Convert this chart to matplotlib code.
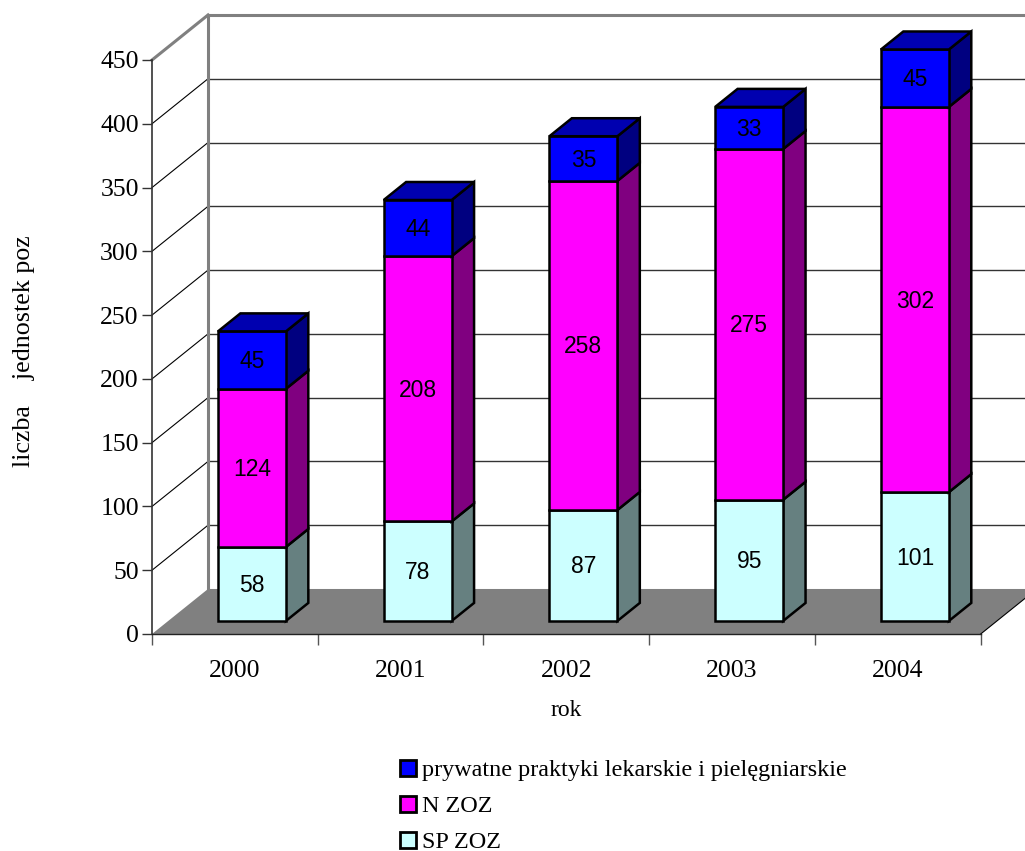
import matplotlib
matplotlib.use("Agg")
from matplotlib import pyplot as plt
from matplotlib.patches import Polygon, Rectangle
from matplotlib.transforms import offset_copy

years = ["2000", "2001", "2002", "2003", "2004"]
sp_zoz = [58, 78, 87, 95, 101]
n_zoz = [124, 208, 258, 275, 302]
prywatne = [45, 44, 35, 33, 45]
y_ticks = list(range(0, 451, 50))

W, H = 1025, 851
SERIF = "Liberation Serif"
SANS = "Liberation Sans"

# how far the full chart depth moves a point, in data units
DEPTH_X = 0.338
DEPTH_Y = 35.3
# bar position inside a category and inside the depth
BAR_LEFT = 0.30
BAR_W = 0.41
BAR_D0 = 0.29
BAR_D1 = 0.69


def pr(x, y, d):
    return (x + d * DEPTH_X, y + d * DEPTH_Y)


fig = plt.figure(figsize=(W / 100, H / 100), dpi=100)
ax = fig.add_axes([152 / W, 1 - 634 / H, (980.7 - 152) / W, (634 - 60) / H])
ax.set_xlim(0, 5)
ax.set_ylim(0, 450)

# back wall, side wall and floor
for t in y_ticks[1:-1]:
    ax.plot([pr(0, t, 1)[0], 5 + DEPTH_X], [t + DEPTH_Y, t + DEPTH_Y], color="#333333", lw=1, clip_on=False, zorder=1)
    ax.plot([0, DEPTH_X], [t, t + DEPTH_Y], color="black", lw=0.8, clip_on=False, zorder=1)
top = y_ticks[-1]
ax.plot([DEPTH_X, 5 + DEPTH_X], [top + DEPTH_Y, top + DEPTH_Y], color="#808080", lw=2.2, clip_on=False, zorder=1)
ax.plot([0, DEPTH_X], [top, top + DEPTH_Y], color="#808080", lw=2.2, clip_on=False, zorder=1)
ax.plot([DEPTH_X, DEPTH_X], [DEPTH_Y, top + DEPTH_Y], color="#808080", lw=2.2, clip_on=False, zorder=1)
ax.add_patch(Polygon([pr(0, 0, 0), pr(5, 0, 0), pr(5, 0, 1), pr(0, 0, 1)], facecolor="#808080",
                     edgecolor="none", clip_on=False, zorder=2))
ax.plot([5, 5 + DEPTH_X], [0, DEPTH_Y], color="black", lw=0.8, clip_on=False, zorder=2)

series = [
    (sp_zoz, "#CCFFFF", "#668080", "#99BFBF", "SP ZOZ"),
    (n_zoz, "#FF00FF", "#800080", "#BF00BF", "N ZOZ"),
    (prywatne, "#0000FF", "#000080", "#0000B0", "prywatne praktyki lekarskie i pielęgniarskie"),
]

# value labels sit a little above the exact middle of the front face
label_tr = offset_copy(ax.transData, fig=fig, x=0, y=1, units="dots")

for i in range(len(years)):
    base = 0
    x0 = i + BAR_LEFT
    x1 = x0 + BAR_W
    for s, (vals, front, side, lid, name) in enumerate(series):
        v = vals[i]
        tp = base + v
        style = dict(edgecolor="black", lw=1.8, joinstyle="miter", clip_on=False, zorder=3 + s)
        ax.add_patch(Polygon([pr(x1, base, BAR_D0), pr(x1, base, BAR_D1), pr(x1, tp, BAR_D1), pr(x1, tp, BAR_D0)],
                             facecolor=side, **style))
        ax.add_patch(Polygon([pr(x0, base, BAR_D0), pr(x1, base, BAR_D0), pr(x1, tp, BAR_D0), pr(x0, tp, BAR_D0)],
                             facecolor=front, **style))
        if s == len(series) - 1:
            ax.add_patch(Polygon([pr(x0, tp, BAR_D0), pr(x1, tp, BAR_D0), pr(x1, tp, BAR_D1), pr(x0, tp, BAR_D1)],
                                 facecolor=lid, **style))
        cx, cy = pr((x0 + x1) / 2, base + v / 2, BAR_D0)
        ax.text(cx, cy, str(v), ha="center", va="center_baseline", family=SANS, fontsize=16.5, color="black",
                zorder=10, transform=label_tr)
        base = tp

# axes
ax.patch.set_visible(False)
for side in ["top", "right"]:
    ax.spines[side].set_visible(False)
ax.spines["left"].set_color("#333333")
ax.spines["left"].set_linewidth(1.2)
ax.spines["bottom"].set_color("#222222")
ax.spines["bottom"].set_linewidth(1.0)
ax.spines["left"].set_zorder(2.5)
ax.spines["bottom"].set_zorder(2.5)
ax.set_yticks(y_ticks)
ax.set_xticks(range(6))
ax.set_xticklabels([])
ax.set_xticks([i + 0.5 for i in range(5)], minor=True)
ax.set_xticklabels(years, minor=True, family=SERIF, fontsize=18.5)
ax.tick_params(axis="x", which="major", length=8, width=1, color="#555555")
ax.tick_params(axis="x", which="minor", length=0, pad=18.5)
ax.tick_params(axis="y", length=7.5, width=1, color="#333333", pad=2)
for lab in ax.get_yticklabels():
    lab.set_family(SERIF)
    lab.set_fontsize(18.5)

fig.text(566 / W, 1 - 711 / H, "rok", family=SERIF, fontsize=17, ha="center", va="center")
fig.text(24 / W, 1 - 351 / H, "liczba    jednostek poz", family=SERIF, fontsize=18.7, rotation=90,
         ha="center", va="center")

# legend, newest series on top
rows = [768, 804, 840]
for row, (vals, front, side, lid, name) in zip(rows, reversed(series)):
    fig.add_artist(Rectangle((400 / W, 1 - (row + 8) / H), 16 / W, 16 / H, facecolor=front, edgecolor="black",
                             lw=2, transform=fig.transFigure))
    fig.text(422 / W, 1 - row / H, name, family=SERIF, fontsize=17.4, ha="left", va="center_baseline")

fig.savefig("out.png", dpi=100)
